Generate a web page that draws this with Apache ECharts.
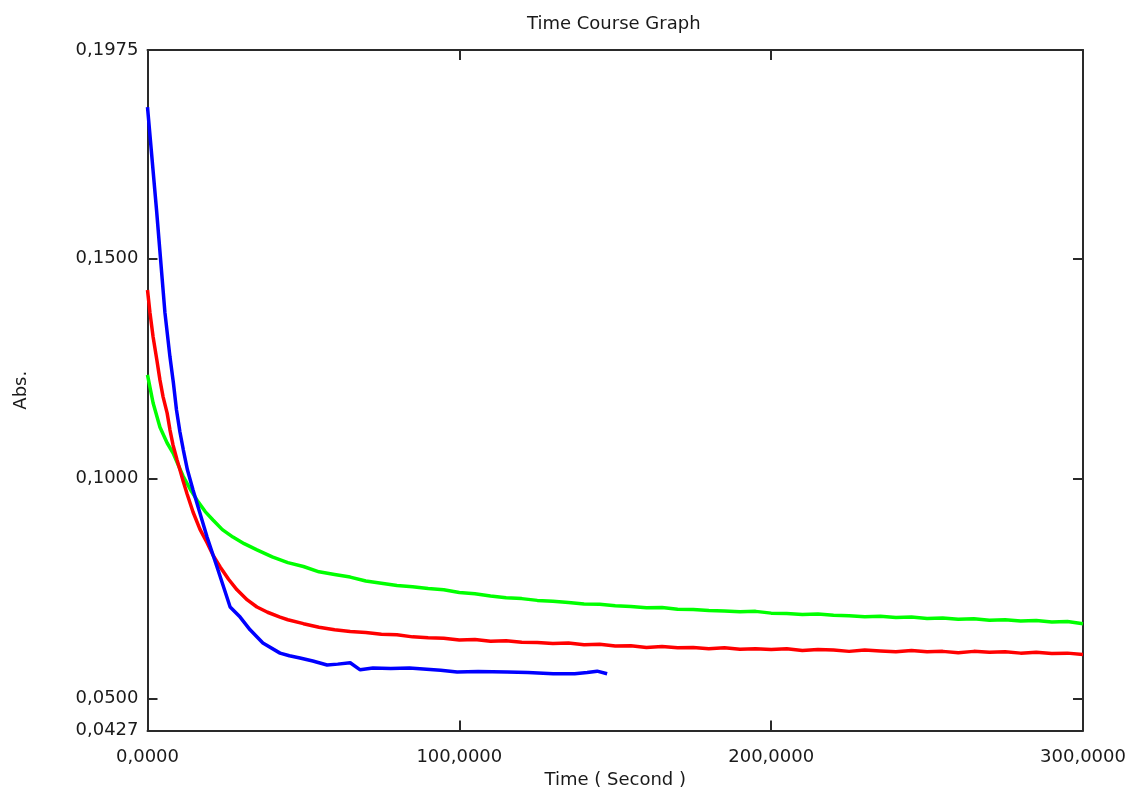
<!DOCTYPE html>
<html>
<head>
<meta charset="utf-8">
<script src="https://cdn.jsdelivr.net/npm/echarts@6/dist/echarts.min.js"></script>
<style>
html,body{margin:0;padding:0;background:#fff;}
#chart{width:1127px;height:792px;}
</style>
</head>
<body>
<div id="chart"></div>
<script>
// ---- data ----
const blueT = [0, 2.9, 5.6, 7.2, 8.3, 9.3, 10.4, 11.5, 12.8, 14.6, 19.1, 22.3, 26.5, 29.7, 32.9, 37.0, 42.5, 45.5, 48.9, 53, 57.6, 61, 65.0, 68.2, 72.3, 78, 84, 88.4, 94, 99.3, 106, 115.3, 122, 130.1, 137, 141, 144.2, 147.4];
const blueV = [0.1845, 0.1611, 0.1377, 0.1277, 0.1218, 0.1156, 0.1106, 0.1065, 0.1020, 0.0974, 0.0867, 0.0799, 0.0708, 0.0685, 0.0656, 0.0626, 0.0603, 0.0597, 0.0592, 0.0585, 0.0576, 0.0578, 0.0581, 0.0565, 0.0569, 0.0568, 0.0569, 0.0567, 0.0564, 0.0560, 0.0561, 0.0560, 0.0559, 0.0556, 0.0556, 0.0559, 0.0562, 0.0556];

const redT = [0, 0.8, 1.8, 3.0, 4.0, 5.0, 6.3, 7.2, 8.2, 9.5, 10.4, 11.4, 12.7, 14.6, 16.8, 19.1, 21, 23.3, 26, 28.7, 32, 35.1, 38.5, 42.5,
  45, 50, 55, 60, 65, 70, 75, 80, 85, 90, 95, 100, 105, 110, 115, 120, 125, 130, 135, 140, 145, 150, 155, 160, 165, 170, 175, 180, 185, 190, 195, 200,
  205, 210, 215, 220, 225, 230, 235, 240, 245, 250, 255, 260, 265, 270, 275, 280, 285, 290, 295, 300];
const redV = [0.1429, 0.1377, 0.1322, 0.1270, 0.1224, 0.1186, 0.1149, 0.1111, 0.1076, 0.1042, 0.1020, 0.0995, 0.0965, 0.0924, 0.0885, 0.0854, 0.0826, 0.0799, 0.0771, 0.0747, 0.0724, 0.0708, 0.0696, 0.0685,
  0.0679, 0.0670, 0.0662, 0.0656, 0.0652, 0.0650, 0.0646, 0.0645, 0.0640, 0.0638, 0.0637, 0.0633, 0.0634, 0.0630, 0.0631, 0.0628, 0.0627, 0.0625, 0.0626, 0.0622, 0.0623, 0.0619, 0.0620, 0.0616, 0.0618, 0.0615, 0.0616, 0.0613, 0.0615, 0.0612, 0.0613, 0.0611,
  0.0613, 0.0609, 0.0611, 0.0610, 0.0607, 0.0610, 0.0608, 0.0606, 0.0609, 0.0606, 0.0607, 0.0604, 0.0607, 0.0605, 0.0606, 0.0603, 0.0605, 0.0602, 0.0603, 0.0600];

const greenT = [0, 1.8, 4.0, 6.3, 8.2, 11.4, 14, 15.9, 18.5, 21, 24, 27.4, 31, 35.1, 40,
  45, 50, 55, 60, 65, 70, 75, 80, 85, 90, 95, 100, 105, 110, 115, 120, 125, 130, 135, 140, 145, 150, 155, 160, 165, 170, 175, 180, 185, 190, 195, 200,
  205, 210, 215, 220, 225, 230, 235, 240, 245, 250, 255, 260, 265, 270, 275, 280, 285, 290, 295, 300];
const greenV = [0.1236, 0.1172, 0.1117, 0.1081, 0.1058, 0.1006, 0.0972, 0.0951, 0.0925, 0.0906, 0.0884, 0.0867, 0.0852, 0.0838, 0.0822,
  0.0809, 0.0800, 0.0788, 0.0782, 0.0776, 0.0767, 0.0762, 0.0757, 0.0754, 0.0750, 0.0747, 0.0741, 0.0738, 0.0733, 0.0729, 0.0727, 0.0723, 0.0721, 0.0718, 0.0715, 0.0714, 0.0711, 0.0709, 0.0706, 0.0707, 0.0703, 0.0702, 0.0700, 0.0699, 0.0697, 0.0698, 0.0694,
  0.0693, 0.0691, 0.0692, 0.0689, 0.0688, 0.0686, 0.0687, 0.0684, 0.0685, 0.0682, 0.0683, 0.0680, 0.0681, 0.0678, 0.0679, 0.0676, 0.0677, 0.0674, 0.0675, 0.0670];

const yLabelValues = [0.0427, 0.0500, 0.1000, 0.1500, 0.1975];
const yTickValues = [0.0500, 0.1000, 0.1500];
const xTickValues = [0, 100, 200, 300];

// ---- chart ----
const zip = (t, v) => t.map((x, i) => [x, v[i]]);
const FONT = 'DejaVu Sans';
const TXT = '#1a1a1a';
const lineCol = '#2a2a2a';
const fmt = v => v.toFixed(4).replace('.', ',');

const frameAxis = {
  axisLine: { show: true, onZero: false, lineStyle: { color: lineCol, width: 2 } },
  axisTick: { show: true, inside: true, length: 10, lineStyle: { color: lineCol, width: 2 } },
  splitLine: { show: false }
};

const chart = echarts.init(document.getElementById('chart'));
chart.setOption({
  animation: false,
  backgroundColor: '#fff',
  title: {
    text: 'Time Course Graph',
    left: 527, top: 15, padding: 0,
    textStyle: { fontFamily: FONT, fontSize: 18, fontWeight: 'normal', color: TXT }
  },
  grid: { left: 147.5, right: 44, top: 50, bottom: 61.5, containLabel: false, outerBoundsMode: 'none' },
  xAxis: [
    Object.assign({}, frameAxis, {
      type: 'value', min: 0, max: 300, position: 'bottom',
      axisTick: Object.assign({}, frameAxis.axisTick, { customValues: xTickValues }),
      axisLabel: { customValues: xTickValues, formatter: fmt, margin: 18, fontFamily: FONT, fontSize: 18, color: TXT },
      name: 'Time ( Second )', nameLocation: 'middle', nameGap: 40,
      nameTextStyle: { fontFamily: FONT, fontSize: 18, color: TXT }
    }),
    Object.assign({}, frameAxis, {
      type: 'value', min: 0, max: 300, position: 'top',
      axisTick: Object.assign({}, frameAxis.axisTick, { customValues: xTickValues }),
      axisLabel: { show: false }
    })
  ],
  yAxis: [
    Object.assign({}, frameAxis, {
      type: 'value', min: 0.0427, max: 0.1975, position: 'left',
      axisTick: Object.assign({}, frameAxis.axisTick, { customValues: yTickValues }),
      axisLabel: { customValues: yLabelValues, formatter: fmt, margin: 9, fontFamily: FONT, fontSize: 18, color: TXT },
      name: 'Abs.', nameLocation: 'middle', nameGap: 117,
      nameTextStyle: { fontFamily: FONT, fontSize: 18, color: TXT }
    }),
    Object.assign({}, frameAxis, {
      type: 'value', min: 0.0427, max: 0.1975, position: 'right',
      axisTick: Object.assign({}, frameAxis.axisTick, { customValues: yTickValues }),
      axisLabel: { show: false }
    })
  ],
  series: [
    { name: 'green', type: 'line', data: zip(greenT, greenV), showSymbol: false, lineStyle: { color: '#00ff00', width: 3.5 }, itemStyle: { color: '#00ff00' } },
    { name: 'red', type: 'line', data: zip(redT, redV), showSymbol: false, lineStyle: { color: '#ff0000', width: 3.5 }, itemStyle: { color: '#ff0000' } },
    { name: 'blue', type: 'line', data: zip(blueT, blueV), showSymbol: false, lineStyle: { color: '#0000ff', width: 3.5 }, itemStyle: { color: '#0000ff' } }
  ]
});
</script>
</body>
</html>
